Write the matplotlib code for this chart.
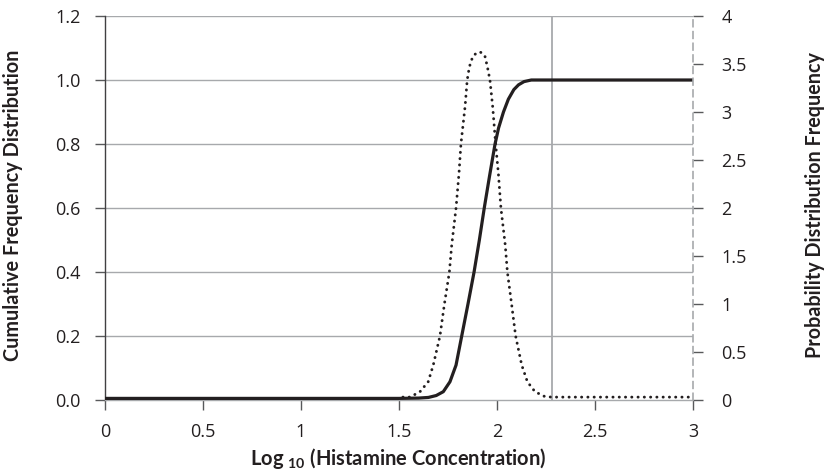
import matplotlib
matplotlib.use("Agg")
import matplotlib.pyplot as plt
from matplotlib.ticker import FixedLocator, FixedFormatter

plt.rcParams['font.family'] = ['Open Sans', 'DejaVu Sans']
plt.rcParams['mathtext.fontset'] = 'custom'
plt.rcParams['mathtext.rm'] = 'Lato'
plt.rcParams['mathtext.bf'] = 'Lato:bold'

# Cumulative frequency distribution (left axis)
cdf_x = [0.0, 1.50, 1.60, 1.65, 1.69, 1.726, 1.76, 1.791, 1.82, 1.852, 1.883,
         1.91, 1.935, 1.962, 1.99, 2.008, 2.033, 2.058, 2.086, 2.11, 2.138, 2.175, 3.0]
cdf_y = [0.005, 0.005, 0.006, 0.008, 0.014, 0.026, 0.057, 0.109, 0.2, 0.3, 0.4,
         0.5, 0.6, 0.7, 0.8, 0.85, 0.9, 0.94, 0.97, 0.985, 0.995, 1.0, 1.0]

# Probability distribution frequency (right axis)
pdf_x = [1.52, 1.556, 1.607, 1.649, 1.675, 1.709, 1.731, 1.757, 1.769, 1.791, 1.806,
         1.816, 1.837, 1.848, 1.859, 1.876, 1.895, 1.913, 1.928, 1.939, 1.951, 1.964,
         1.978, 1.993, 2.007, 2.020, 2.042, 2.053, 2.075, 2.095, 2.126, 2.155,
         2.194, 2.245, 2.28, 3.0]
pdf_y = [0.03, 0.03, 0.086, 0.19, 0.365, 0.667, 0.99, 1.333, 1.615, 2.0, 2.36,
         2.667, 3.055, 3.333, 3.47, 3.576, 3.615, 3.625, 3.61, 3.576, 3.47, 3.333,
         3.055, 2.667, 2.36, 2.0, 1.615, 1.333, 0.99, 0.667, 0.365, 0.19,
         0.086, 0.035, 0.03, 0.03]

x_ticks = [0, 0.5, 1, 1.5, 2, 2.5, 3]
x_labels = ['0', '0.5', '1', '1.5', '2', '2.5', '3']
left_ticks = [0.0, 0.2, 0.4, 0.6, 0.8, 1.0, 1.2]
left_labels = ['0.0', '0.2', '0.4', '0.6', '0.8', '1.0', '1.2']
right_ticks = [0, 0.5, 1, 1.5, 2, 2.5, 3, 3.5, 4]
right_labels = ['0', '0.5', '1', '1.5', '2', '2.5', '3', '3.5', '4']
ref_line_x = 2.28

W, H = 830, 473
fig = plt.figure(figsize=(W / 100, H / 100), dpi=100)
ax = fig.add_axes([105 / W, 1 - 400 / H, (693 - 105) / W, (400 - 16) / H])

text_col = '#231f20'
grid_col = '#a7a9ac'
tick_col = '#58595b'
tick_fs = 13
label_font = ['Lato', 'DejaVu Sans']

ax.set_xlim(0, 3)
ax.set_ylim(0, 1.2)
for yv in left_ticks[1:]:
    ax.axhline(yv, color=grid_col, lw=1.0, zorder=1)
ax.axvline(ref_line_x, color=grid_col, lw=1.3, zorder=1)

ax.plot(cdf_x, cdf_y, color=text_col, lw=2.3, solid_capstyle='butt',
        solid_joinstyle='round', zorder=4)

ax.spines['top'].set_visible(False)
ax.spines['right'].set_visible(False)
ax.spines['left'].set_color('#414042')
ax.spines['left'].set_linewidth(1.0)
ax.spines['bottom'].set_color(grid_col)
ax.spines['bottom'].set_linewidth(1.0)

ax.xaxis.set_major_locator(FixedLocator(x_ticks))
ax.xaxis.set_major_formatter(FixedFormatter(x_labels))
ax.yaxis.set_major_locator(FixedLocator(left_ticks))
ax.yaxis.set_major_formatter(FixedFormatter(left_labels))
ax.tick_params(axis='x', direction='out', length=7.5, width=1.0, color=tick_col,
               labelsize=tick_fs, labelcolor=text_col, pad=9)
ax.tick_params(axis='y', direction='out', length=7.5, width=1.0, color=tick_col,
               labelsize=tick_fs, labelcolor=text_col, pad=10)

ax2 = ax.twinx()
ax2.set_ylim(0, 4)
ax2.plot(pdf_x, pdf_y, color=text_col, lw=2.1, linestyle=(0, (0.05, 2.1)),
         dash_capstyle='round', zorder=5)
for s in ['top', 'left', 'bottom']:
    ax2.spines[s].set_visible(False)
ax2.spines['right'].set_color(grid_col)
ax2.spines['right'].set_linewidth(1.2)
ax2.spines['right'].set_linestyle((0, (4, 3)))
ax2.yaxis.set_major_locator(FixedLocator(right_ticks))
ax2.yaxis.set_major_formatter(FixedFormatter(right_labels))
ax2.tick_params(axis='y', direction='out', length=7.5, width=1.0, color=tick_col,
                labelsize=tick_fs, labelcolor=text_col, pad=13)

fig.text(13 / W, 1 - 205 / H, 'Cumulative Frequency Distribution', rotation=90,
         ha='center', va='center', fontsize=14.3, fontweight='bold', color=text_col,
         family=label_font)
fig.text(815 / W, 1 - 205 / H, 'Probability Distribution Frequency', rotation=90,
         ha='center', va='center', fontsize=14.2, fontweight='bold', color=text_col,
         family=label_font)
fig.text(398 / W, 1 - 465 / H, r'Log $_{\mathbf{10}}$ (Histamine Concentration)',
         ha='center', va='baseline', fontsize=14.5, fontweight='bold', color=text_col,
         family=label_font)

fig.savefig('out.png', dpi=100)
